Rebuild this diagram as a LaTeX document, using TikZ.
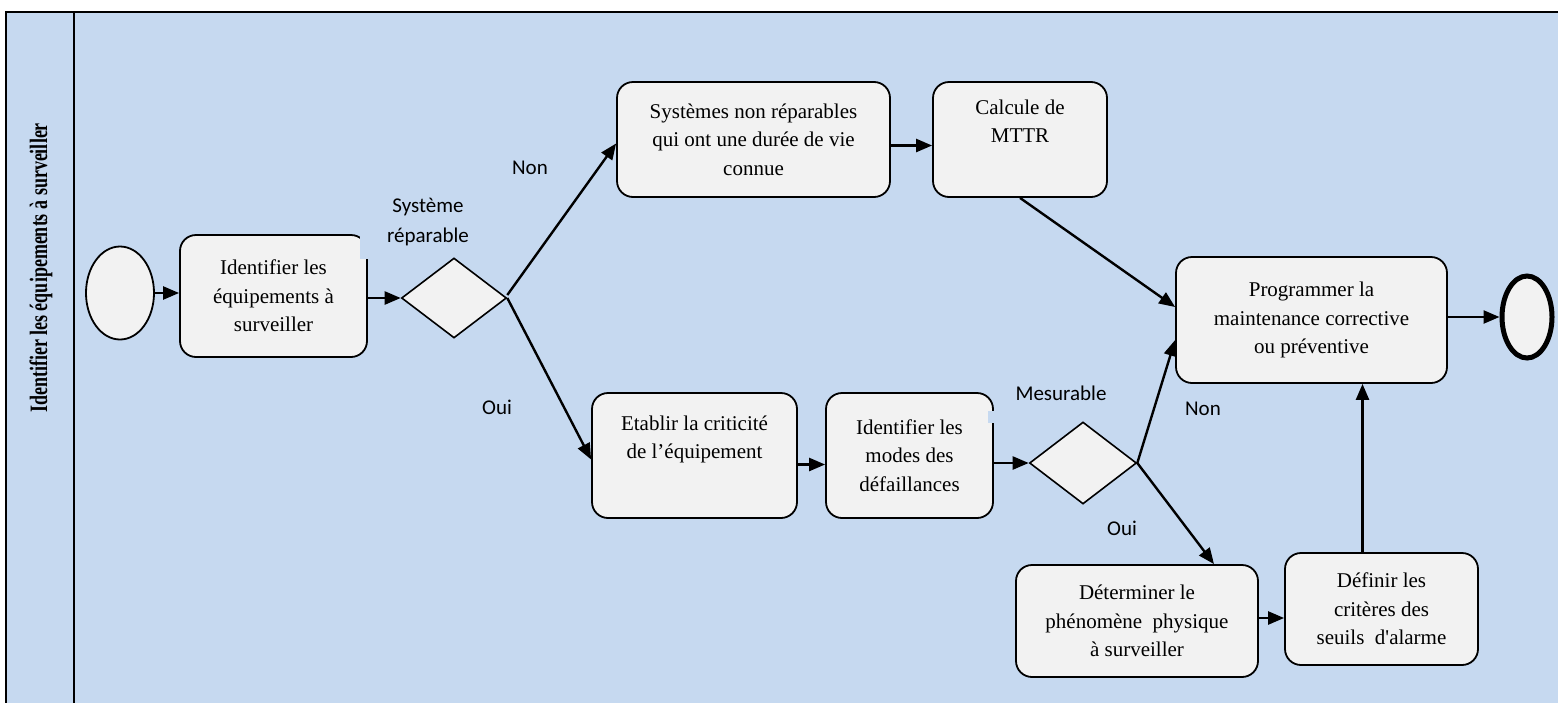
\documentclass[tikz,border=0pt]{standalone}
\usepackage{fontspec}
\setmainfont{Liberation Serif}
\newfontfamily\labelfont{Carlito}
\usetikzlibrary{shapes.geometric,arrows.meta}
\definecolor{lanebg}{HTML}{C6D9F0}
\definecolor{boxfill}{HTML}{F2F2F2}
\begin{document}
\begin{tikzpicture}[x=1pt,y=-1pt,
  task/.style={draw=black, line width=1.8pt, fill=boxfill, rounded corners=16pt,
    align=center, inner sep=0pt, font=\fontsize{21}{28.5}\selectfont},
  gate/.style={draw=black, line width=1.6pt, fill=boxfill, diamond, inner sep=0pt},
  event/.style={draw=black, line width=1.8pt, fill=boxfill, ellipse, inner sep=0pt},
  flow/.style={line width=2.4pt, -{Triangle[length=16pt,width=13pt]}},
  cond/.style={font=\labelfont\fontsize{21}{30}\selectfont, align=center, inner sep=0pt},
  lanerule/.style={line width=2.4pt}]

\useasboundingbox (0,0) rectangle (1558,702);
\fill[white] (0,0) rectangle (1558,702);

% pool and lane
\fill[lanebg] (6,12) rectangle (1562,706);
\draw[lanerule] (1562,12) -- (6,12) -- (6,706);
\draw[lanerule] (74,12) -- (74,706);
\node[rotate=90, font=\bfseries\fontsize{25}{28}\selectfont] (lane) at (41,268)
  {\scalebox{0.72}[1]{Identifier les équipements à surveiller}};

% events
\node[event, minimum width=68pt, minimum height=93pt] (start) at (120,293) {};
\node[event, line width=5pt, minimum width=50pt, minimum height=82pt] (end) at (1527,317) {};

% tasks
\node[task, minimum width=187pt, minimum height=122pt] (ident) at (273.5,296)
  {Identifier les\\équipements à\\surveiller};
\node[task, minimum width=273pt, minimum height=115pt] (sys) at (753.5,139.5)
  {Systèmes non réparables\\qui ont une durée de vie\\connue};
\node[task, minimum width=174pt, minimum height=115pt] (mttr) at (1020,139.5)
  {Calcule de\\MTTR\\\strut};
\node[task, minimum width=205pt, minimum height=125pt] (etab) at (694.5,455.5)
  {Etablir la criticité\\de l’équipement\\\strut};
\node[task, minimum width=167pt, minimum height=125pt] (modes) at (909.5,455.5)
  {Identifier les\\modes des\\défaillances};
\node[task, minimum width=271pt, minimum height=126pt] (prog) at (1311.5,320)
  {Programmer la\\maintenance corrective\\ou préventive};
\node[task, minimum width=242pt, minimum height=112pt] (det) at (1137,621)
  {Déterminer le\\phénomène~ physique\\à surveiller};
\node[task, minimum width=193pt, minimum height=112pt] (def) at (1381.5,609)
  {Définir les\\critères des\\seuils~ d\textquotesingle alarme};

% small breaks in two box corners
\fill[lanebg] (360,230) rectangle (371,259);
\fill[lanebg] (988,411) rectangle (998,423);

% gateways
\node[gate, minimum width=105pt, minimum height=80pt] (rep) at (454,298) {};
\node[gate, minimum width=107pt, minimum height=82pt] (mes) at (1083,463) {};

% condition labels
\node[cond] (lrep) at (428,222) {Système\\réparable};
\node[cond] (lnon1) at (530,168) {Non};
\node[cond] (loui1) at (497,407) {Oui};
\node[cond] (lmes) at (1061,393) {Mesurable};
\node[cond] (lnon2) at (1203,409) {Non};
\node[cond] (loui2) at (1122,528) {Oui};

% sequence flows
\draw[flow] (start.east) -- (start.east -| ident.west);
\draw[flow] (ident.east |- rep.west) -- (rep.west);
\draw[flow] ([yshift=3pt]rep.east) -- ([yshift=-4pt]sys.west);
\draw[flow] (rep.east) -- ([yshift=-4pt]etab.west);
\draw[flow] ([yshift=-6pt]sys.east) -- ([yshift=-6pt]mttr.west);
\draw[flow] ([yshift=-9pt]etab.east) -- ([yshift=-9pt]modes.west);
\draw[flow] (modes.east |- mes.west) -- (mes.west);
\draw[flow] (mttr.south) -- ([yshift=13pt]prog.west);
\draw[flow] (mes.east) -- ([yshift=-20pt]prog.west);
\draw[flow] (mes.east) -- ([xshift=77pt]det.north);
\draw[flow] ([yshift=3pt]det.east) -- ([yshift=3pt]det.east -| def.west);
\draw[flow] ([xshift=-19pt]def.north) -- ([xshift=-19pt]def.north |- prog.south);
\draw[flow] (prog.east |- end.west) -- (end.west);
\end{tikzpicture}
\end{document}
